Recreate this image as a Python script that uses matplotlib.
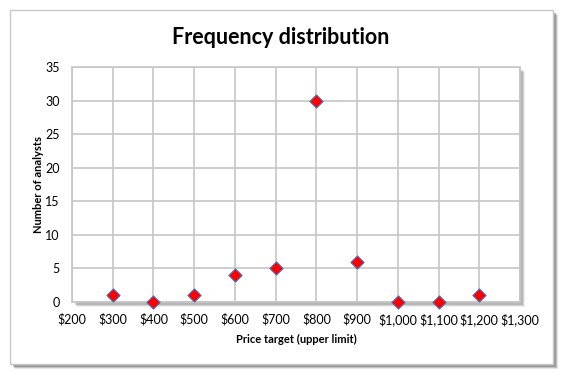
import numpy as np
import matplotlib.pyplot as plt
from matplotlib.patches import Rectangle
from matplotlib.ticker import FuncFormatter

# price target upper limits and number of analysts
price_target = [300, 400, 500, 600, 700, 800, 900, 1000, 1100, 1200]
num_analysts = [1, 0, 1, 4, 5, 30, 6, 0, 0, 1]

plt.rcParams['font.family'] = ['Lato', 'DejaVu Sans']

W, H = 566, 377
fig = plt.figure(figsize=(W / 100, H / 100), dpi=100)
fig.patch.set_facecolor('white')


def px_rect(x0, y0, x1, y1, **kw):
    # rectangle given in pixel coords (top-left origin)
    r = Rectangle((x0 / W, 1 - y1 / H), (x1 - x0) / W, (y1 - y0) / H,
                  transform=fig.transFigure, **kw)
    fig.patches.append(r)
    return r


# outer chart frame with shadow
for d, a in [(5, 0.15), (4, 0.25), (3, 0.35)]:
    px_rect(10 + d, 10 + d, 553 + d, 364 + d, facecolor='#555555', edgecolor='none',
            alpha=a, zorder=0)
px_rect(10, 10, 553, 364, facecolor='white', edgecolor='#c8c8c8', lw=1.0, zorder=1)

# plot-area shadow
for d, a in [(5, 0.10), (4, 0.18), (3, 0.25)]:
    px_rect(72 + d, 67 + d, 520 + d, 302 + d, facecolor='#606060', edgecolor='none',
            alpha=a, zorder=1.5)

ax = fig.add_axes([72 / W, 1 - 302 / H, 448 / W, 235 / H])
ax.set_facecolor('white')
ax.set_zorder(2)

ax.scatter(price_target, num_analysts, marker='D', s=45, color='#ff0000',
           edgecolors='#4a6fb5', linewidths=0.8, zorder=3, clip_on=False)

ax.set_xlim(200, 1300)
ax.set_ylim(0, 35)
ax.set_xticks(np.arange(200, 1301, 100))
ax.set_yticks(np.arange(0, 36, 5))
ax.xaxis.set_major_formatter(FuncFormatter(lambda v, p: '${:,.0f}'.format(v)))
ax.grid(True, color='#c6c6c6', lw=1.2)
ax.set_axisbelow(True)
for s in ax.spines.values():
    s.set_color('#c6c6c6')
    s.set_linewidth(1.2)
ax.tick_params(length=0, labelsize=9)
ax.tick_params(axis='x', pad=8)
ax.tick_params(axis='y', pad=9)

ax.set_xlabel('Price target (upper limit)', fontsize=8, fontweight='bold', labelpad=6)
ax.set_ylabel('Number of analysts', fontsize=8, fontweight='bold', labelpad=1)
fig.text(281 / W, 1 - 38 / H, 'Frequency distribution', fontsize=15.5, fontweight='bold',
         ha='center', va='center')

fig.savefig('out.png', dpi=100)
